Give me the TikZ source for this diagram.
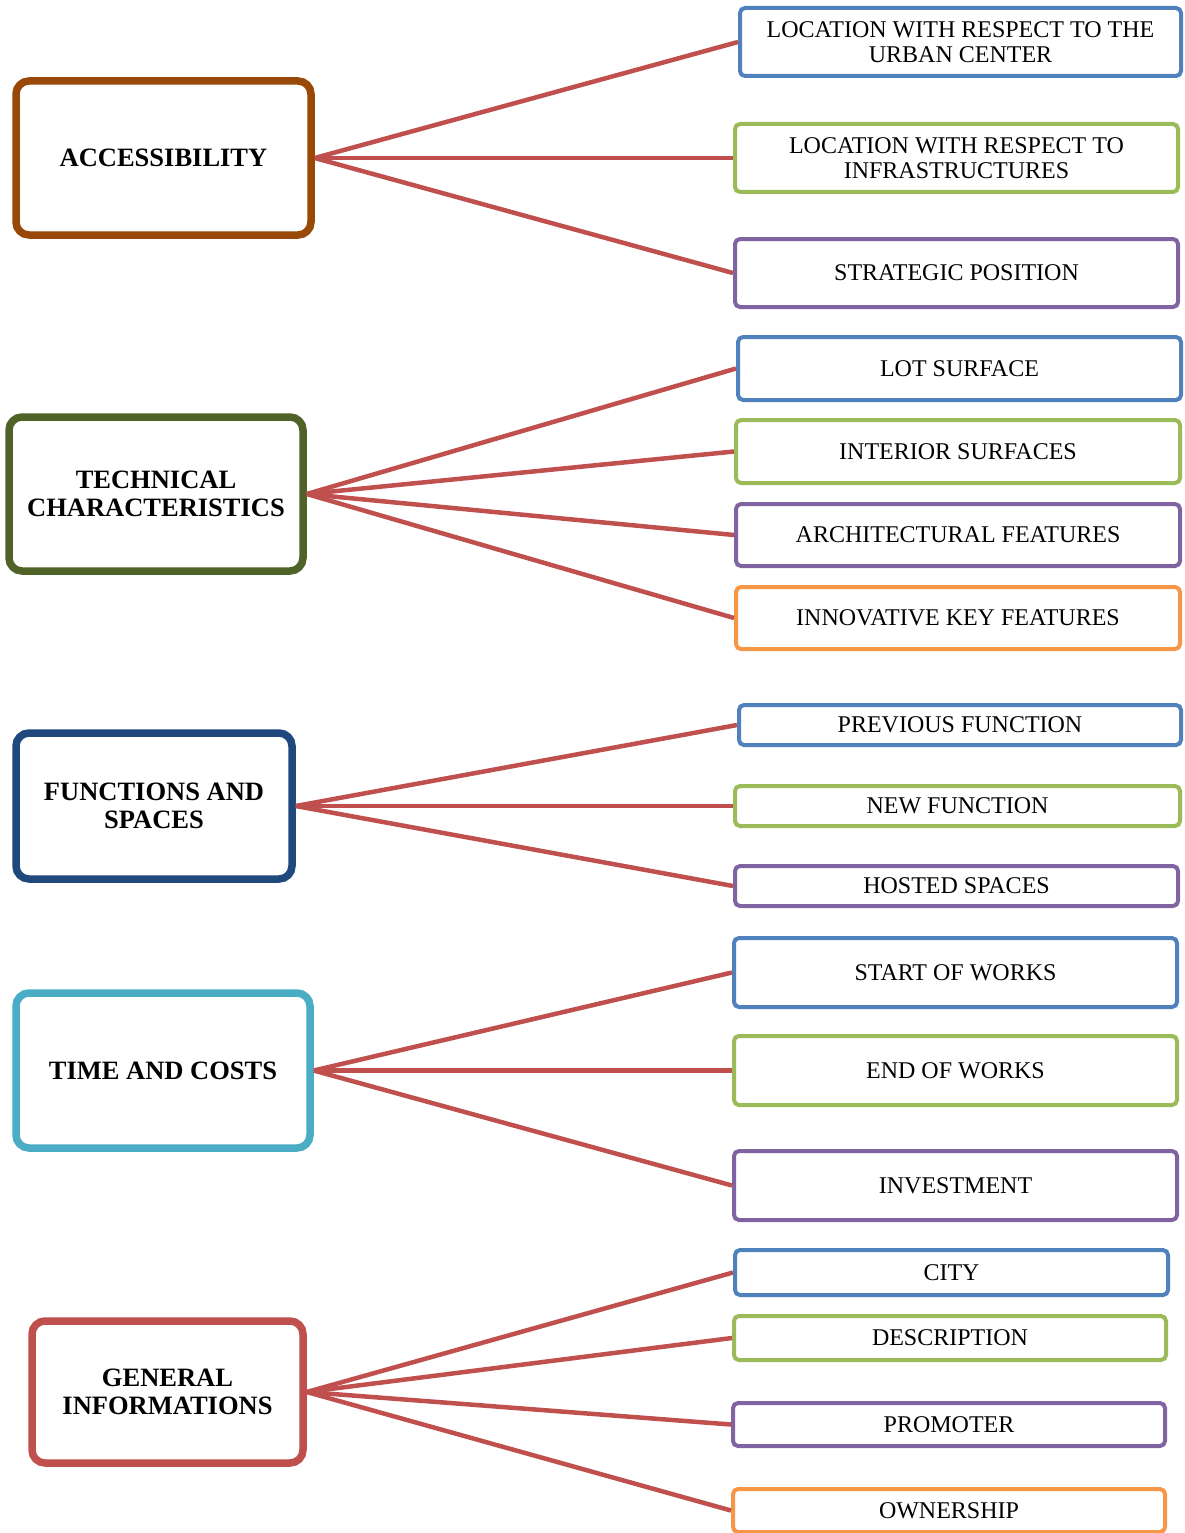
\documentclass[tikz,border=0pt]{standalone}
\usepackage{fontspec}
\setmainfont{Liberation Serif}
\definecolor{cBrown}{HTML}{984807}
\definecolor{cOlive}{HTML}{4F6228}
\definecolor{cNavy}{HTML}{1F497D}
\definecolor{cCyan}{HTML}{4BACC6}
\definecolor{cRed}{HTML}{C0504D}
\definecolor{cBlue}{HTML}{4F81BD}
\definecolor{cGreen}{HTML}{9BBB59}
\definecolor{cPurple}{HTML}{8064A2}
\definecolor{cOrange}{HTML}{F79646}
\begin{document}
\begin{tikzpicture}[x=1pt,y=-1pt,
  lbox/.style={draw, line width=7.5pt, rounded corners=13pt, fill=white,
    inner sep=0pt, align=center,
    font=\bfseries\fontsize{26.5}{28}\selectfont},
  rbox/.style={draw, line width=4pt, rounded corners=5pt, fill=white,
    inner sep=0pt, align=center, font=\fontsize{24}{25.5}\selectfont},
  link/.style={draw=cRed, line width=4.5pt}]
\useasboundingbox (0,0) rectangle (1184,1533);

% category boxes
\node[lbox, draw=cBrown, minimum width=295pt, minimum height=154pt] (acc) at (163.5,158) {ACCESSIBILITY};
\node[lbox, draw=cOlive, minimum width=294pt, minimum height=154pt] (tec) at (156,494) {TECHNICAL\\CHARACTERISTICS};
\node[lbox, draw=cNavy, minimum width=276pt, minimum height=146pt] (fun) at (154,806) {FUNCTIONS AND\\SPACES};
\node[lbox, draw=cCyan, minimum width=294pt, minimum height=155pt] (tim) at (163,1070.5) {TIME AND COSTS};
\node[lbox, draw=cRed, minimum width=271pt, minimum height=142pt] (gen) at (167.5,1392) {GENERAL\\INFORMATIONS};

% accessibility items
\node[rbox, draw=cBlue, minimum width=441pt, minimum height=68pt] (a1) at (960.5,42) {LOCATION WITH RESPECT TO THE\\URBAN CENTER};
\node[rbox, draw=cGreen, minimum width=443pt, minimum height=68pt] (a2) at (956.5,158) {LOCATION WITH RESPECT TO\\INFRASTRUCTURES};
\node[rbox, draw=cPurple, minimum width=443pt, minimum height=68pt] (a3) at (956.5,273) {STRATEGIC POSITION};

% technical items
\node[rbox, draw=cBlue, minimum width=443pt, minimum height=63pt] (t1) at (959.5,368.5) {LOT SURFACE};
\node[rbox, draw=cGreen, minimum width=444pt, minimum height=63pt] (t2) at (958,451.5) {INTERIOR SURFACES};
\node[rbox, draw=cPurple, minimum width=444pt, minimum height=62pt] (t3) at (958,535) {ARCHITECTURAL FEATURES};
\node[rbox, draw=cOrange, minimum width=444pt, minimum height=62pt] (t4) at (958,618) {INNOVATIVE KEY FEATURES};

% function items
\node[rbox, draw=cBlue, minimum width=442pt, minimum height=40pt] (f1) at (960,725) {PREVIOUS FUNCTION};
\node[rbox, draw=cGreen, minimum width=445pt, minimum height=40pt] (f2) at (957.5,806) {NEW FUNCTION};
\node[rbox, draw=cPurple, minimum width=443pt, minimum height=40pt] (f3) at (956.5,886) {HOSTED SPACES};

% time and cost items
\node[rbox, draw=cBlue, minimum width=443pt, minimum height=69pt] (c1) at (955.5,972.5) {START OF WORKS};
\node[rbox, draw=cGreen, minimum width=443pt, minimum height=69pt] (c2) at (955.5,1070.5) {END OF WORKS};
\node[rbox, draw=cPurple, minimum width=443pt, minimum height=69pt] (c3) at (955.5,1185.5) {INVESTMENT};

% general information items
\node[rbox, draw=cBlue, minimum width=433pt, minimum height=45pt] (g1) at (951.5,1272.5) {CITY};
\node[rbox, draw=cGreen, minimum width=432pt, minimum height=44pt] (g2) at (950,1338) {DESCRIPTION};
\node[rbox, draw=cPurple, minimum width=432pt, minimum height=43pt] (g3) at (949,1424.5) {PROMOTER};
\node[rbox, draw=cOrange, minimum width=432pt, minimum height=43pt] (g4) at (949,1510.5) {OWNERSHIP};

% connectors
\foreach \s/\t in {acc/a1, acc/a2, acc/a3,
                   tec/t1, tec/t2, tec/t3, tec/t4,
                   fun/f1, fun/f2, fun/f3,
                   tim/c1, tim/c2, tim/c3,
                   gen/g1, gen/g2, gen/g3, gen/g4}
  \path[link] (\s.east) -- (\t.west);
\end{tikzpicture}
\end{document}
